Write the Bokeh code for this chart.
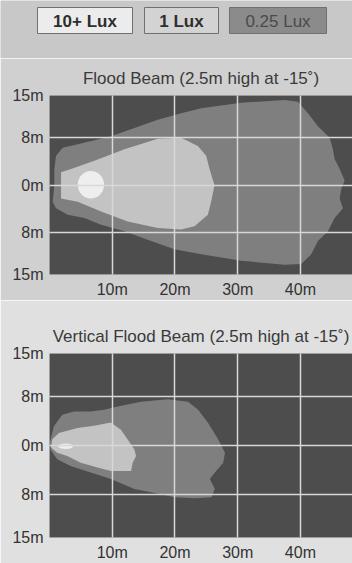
from bokeh.plotting import figure
from bokeh.layouts import column
from bokeh.models import Range1d, FixedTicker, ColumnDataSource
from bokeh.core.properties import value
from bokeh.embed import file_html
from bokeh.resources import INLINE

# ---------------- data ----------------
legend_labels = ["10+ Lux", "1 Lux", "0.25 Lux"]
legend_colors = ["#ececec", "#d3d3d3", "#8b8b8b"]
legend_text_colors = ["#2e2e2e", "#2e2e2e", "#4a4a4a"]
legend_styles = ["bold", "bold", "normal"]

y_ticks = [-15, -8, 0, 8, 15]
y_tick_labels = ["15m", "8m", "0m", "8m", "15m"]
x_ticks = [10, 20, 30, 40]
x_tick_labels = ["10m", "20m", "30m", "40m"]

# Flood beam (top chart) - 0.25 lux contour
flood_q_x = [2.10, 4.49, 7.69, 9.81, 13.54, 17.26, 20.98, 24.18, 30.56, 37.47, 39.60,
             41.20, 42.79, 44.65, 45.18, 45.45, 46.25, 47.05, 46.52, 46.25, 46.78,
             45.45, 44.39, 42.79, 41.73, 40.14, 37.47, 30.56, 24.18, 19.92, 16.20,
             11.94, 8.22, 5.56, 2.90, 1.04, 0.51, 0.77, 0.77, 1.04]
flood_q_y = [6.26, 6.81, 7.64, 8.19, 9.56, 10.93, 12.03, 12.86, 13.79, 14.23, 13.96,
             12.03, 9.84, 7.91, 5.99, 4.34, 2.69, 0.77, -0.60, -2.25, -3.90,
             -5.55, -7.75, -9.40, -11.59, -13.24, -13.35, -12.69, -11.59, -10.77, -9.40,
             -7.75, -6.65, -5.55, -5.00, -3.90, -2.80, -0.05, 2.69, 4.89]
# Flood beam - 1 lux contour
flood_1_x = [1.84, 3.43, 7.15, 11.94, 17.26, 20.98, 23.64, 24.97, 25.51, 26.30, 25.77,
             25.24, 23.11, 20.98, 17.26, 12.47, 8.22, 4.49, 1.84]
flood_1_y = [2.14, 2.69, 4.07, 5.99, 7.75, 7.91, 6.54, 4.89, 2.69, -0.05, -2.80,
             -5.00, -6.92, -7.47, -7.20, -6.10, -4.45, -2.80, -2.25]
# Flood beam - 10+ lux spot
flood_10_x = [6.6]
flood_10_y = [0.05]
flood_10_w = [4.2]
flood_10_h = [4.6]

# Vertical flood beam (bottom chart) - 0.25 lux contour
vert_q_x = [0.05, 0.70, 2.03, 3.90, 6.58, 8.72, 10.86, 14.60, 18.88, 22.09, 23.69,
            25.29, 26.90, 27.97, 27.70, 26.36, 25.56, 26.36, 25.83, 23.16, 19.95,
            16.20, 13.53, 9.79, 6.58, 3.37, 1.23, 0.16]
vert_q_y = [0.43, 3.12, 5.00, 5.54, 5.54, 5.81, 6.34, 7.15, 7.53, 7.15, 5.81,
            3.66, 0.97, -1.18, -2.80, -4.41, -5.48, -7.10, -8.44, -8.60, -8.44,
            -7.63, -7.10, -5.48, -4.41, -3.33, -2.26, -0.65]
# Vertical flood beam - 1 lux contour
vert_1_x = [0.43, 1.50, 4.44, 7.11, 9.79, 11.39, 12.46, 13.53, 13.80, 13.26, 13.00,
            9.79, 7.65, 4.97, 2.83, 1.23, 0.27]
vert_1_y = [0.97, 2.04, 2.85, 3.23, 3.76, 2.58, 0.97, -0.65, -1.72, -2.80, -4.14,
            -4.14, -3.60, -2.80, -1.72, -1.18, -0.38]
# Vertical flood beam - 10+ lux spot
vert_10_x = [2.57]
vert_10_y = [-0.11]
vert_10_w = [2.4]
vert_10_h = [0.9]

# ---------------- styles ----------------
FONT = "Liberation Sans"
DARK = "#4d4d4d"
C_Q = "#7f7f7f"
C_1 = "#c3c3c3"
C_10 = "#eeeeee"
GRID = "#d8d8d8"
TEXT = "#333333"
W = 352


def legend_fig():
    p = figure(width=W, height=58, x_range=Range1d(0, 352), y_range=Range1d(58, 0),
               output_backend="svg", toolbar_location=None, min_border=0,
               min_border_left=0, min_border_right=0, min_border_top=0, min_border_bottom=0,
               background_fill_color="#c8c8c8", border_fill_color="#c8c8c8")
    p.axis.visible = False
    p.grid.visible = False
    p.outline_line_color = None
    left = [37, 144, 229]
    right = [132, 218, 326]
    src = ColumnDataSource(dict(
        left=left, right=right, top=[7] * 3, bottom=[33] * 3,
        cx=[(a + b) / 2 for a, b in zip(left, right)], cy=[20.5] * 3,
        label=legend_labels, color=legend_colors, tcolor=legend_text_colors,
        style=legend_styles))
    p.quad(left="left", right="right", top="top", bottom="bottom", source=src,
           fill_color="color", line_color="#707070", line_width=1)
    p.text(x="cx", y="cy", text="label", source=src, text_align="center",
           text_baseline="middle", text_font=value(FONT), text_font_size=value("17px"),
           text_font_style="style", text_color="tcolor")
    return p


def beam_fig(title, height, top_border, qx, qy, x1, y1, sx, sy, sw, sh):
    p = figure(width=W, height=height, x_range=Range1d(0, 48.3), y_range=Range1d(-15, 15),
               output_backend="svg", toolbar_location=None,
               min_border_left=49, min_border_right=0, min_border_top=top_border,
               min_border_bottom=24, background_fill_color=DARK,
               border_fill_color="#d6d6d6", title=title)
    p.title.text_font = FONT
    p.title.text_font_size = "17px"
    p.title.text_font_style = "normal"
    p.title.text_color = "#3a3a3a"
    p.title.align = "center"
    p.title.standoff = 16
    p.outline_line_color = None

    p.patch(qx, qy, fill_color=C_Q, line_color=None)
    p.patch(x1, y1, fill_color=C_1, line_color=None)
    p.ellipse(x=sx, y=sy, width=sw, height=sh, fill_color=C_10, line_color=None)

    p.xaxis.ticker = FixedTicker(ticks=x_ticks)
    p.yaxis.ticker = FixedTicker(ticks=y_ticks)
    p.xaxis.major_label_overrides = dict(zip(x_ticks, x_tick_labels))
    p.yaxis.major_label_overrides = dict(zip(y_ticks, y_tick_labels))
    for ax in (p.xaxis, p.yaxis):
        ax.axis_line_color = None
        ax.major_tick_line_color = None
        ax.minor_tick_line_color = None
        ax.major_tick_out = 0
        ax.major_tick_in = 0
        ax.major_label_text_font = FONT
        ax.major_label_text_font_size = "16px"
        ax.major_label_text_color = TEXT
        ax.major_label_standoff = 6
    for g in (p.xgrid, p.ygrid):
        g.grid_line_color = GRID
        g.grid_line_width = 1.5
        g.level = "overlay"
    return p


leg = legend_fig()
p1 = beam_fig("Flood Beam (2.5m high at -15\u02da)", 242, 34,
              flood_q_x, flood_q_y, flood_1_x, flood_1_y,
              flood_10_x, flood_10_y, flood_10_w, flood_10_h)
p2 = beam_fig("Vertical Flood Beam (2.5m high at -15\u02da)", 263, 53,
              vert_q_x, vert_q_y, vert_1_x, vert_1_y,
              vert_10_x, vert_10_y, vert_10_w, vert_10_h)
p1.border_fill_color = "#d0d0d0"
p2.border_fill_color = "#e0e0e0"

layout = column(column(leg, spacing=0), column(p1, p2, spacing=0), spacing=0)
open("out.html", "w").write(file_html(layout, INLINE))
